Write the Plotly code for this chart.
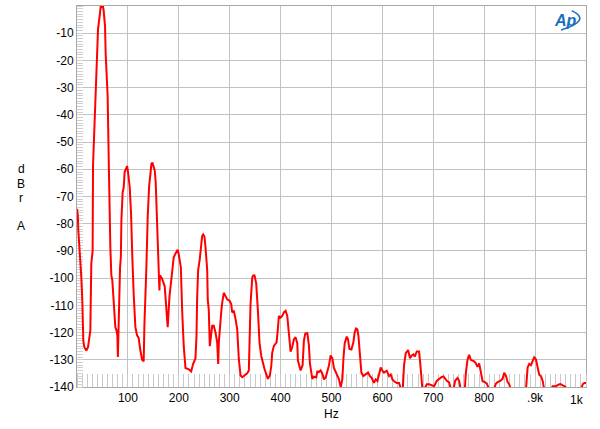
import plotly.graph_objects as go

# Spectrum data (frequency in Hz, level in dBr A)
freq_hz = [
    0, 1.6, 2.6, 5.1, 7.1, 8.5, 10.4, 12.4, 14.4, 18.3, 21.6, 24.2, 26.2, 28.1, 30.7,
    31.5, 33.0, 36.0, 38.0, 41.3, 45.2, 46.4, 51.2, 52.3, 55.1, 56.3, 60.2, 61.0, 62.2,
    65.5, 67.5, 69.4, 71.4, 75.3, 77.3, 79.3, 80.3, 81.2, 84.6, 86.2,
    87.2, 89.7, 91.7, 93.6, 97.0, 98.4, 100.3, 101.5, 103.5, 106.2, 107.4, 108.8,
    111.3, 114.7, 118.0, 121.2, 124.5, 127.9, 131.0, 132.4, 136.3, 136.8,
    138.9, 141.6, 144.2, 146.2, 148.1, 150.7, 152.7, 154.6, 156.6, 159.2, 161.3,
    161.9, 162.9, 166.8, 172.3, 175.7, 178.2, 181.6, 183.5, 186.9, 190.0, 193.4,
    195.4, 197.7, 199.7, 202.0, 204.0,
    206.6, 209.7, 213.1, 219.5, 224.3, 228.2, 232.7, 234.7, 236.1, 238.0, 241.2,
    243.9, 245.9, 247.9, 250.4, 252.4, 255.8, 256.9, 258.9, 260.9, 263.6, 265.6,
    268.7, 272.1, 275.4, 277.4, 278.6, 280.5, 283.3, 285.3, 288.4, 291.8, 295.1,
    300.2, 303.0, 304.9, 308.1, 311.4, 314.8, 317.9, 321.3, 324.6, 329.1, 334.4,
    337.6, 339.6, 340.9, 344.3, 346.2, 348.8, 352.1, 355.3, 358.6, 362.0, 365.1,
    368.5, 375.0, 378.9, 381.7, 383.6, 386.8, 392.1, 394.6, 396.6, 399.9, 403.3,
    406.4, 409.8, 413.1, 416.3, 419.6, 422.9, 426.1, 429.4, 432.8, 434.0, 439.3,
    443.2, 445.8, 448.5, 452.5, 455.6, 457.6, 462.3, 465.5, 470.0, 472.1, 475.3,
    478.6, 481.9, 485.2, 488.5, 492.0, 495.0, 498.3, 501.7, 504.8, 508.2, 511.6,
    514.7, 518.1, 521.4, 523.4, 525.9, 529.9, 532.4, 535.2, 539.1, 543.0, 545.6,
    548.1, 550.8, 552.9, 556.0, 558.7, 562.6, 567.2, 571.7, 575.6, 579.0, 583.5,
    586.8, 590.2, 593.3, 596.7, 600.0, 603.2, 608.5, 613.0, 616.4, 619.7, 622.9,
    628.2, 632.7, 636.0, 640.0, 642.5, 645.9, 650.4, 654.3, 657.7, 661.0, 663.6,
    667.5, 672.0, 674.0, 676.8, 678.7, 681.9, 687.2, 691.7, 696.5, 701.6, 707.0,
    711.5, 716.1, 720.1, 723.2, 726.5, 731.0, 734.4, 739.7, 742.8, 747.6, 750.7,
    754.1, 761.9, 763.9, 767.2, 770.4, 773.7, 777.1, 780.2, 783.6, 786.9, 790.1,
    793.4, 796.8, 801.3, 805.2, 809.8, 819.0, 822.9, 826.3, 831.4, 836.1, 839.3,
    842.6, 846.0, 849.1, 852.5, 882.0, 885.3, 888.5, 891.8, 895.1, 898.3, 901.6,
    905.0, 908.1, 911.5, 914.8, 918.0, 931.2, 934.5, 941.0, 947.5, 950.9, 954.2,
    957.4, 962.6, 990.2, 993.5, 996.7, 1000.0,
]
level_dbr = [
    -74.5, -77, -82.5, -89.8, -92.8, -99.7, -108, -123, -125.4, -126.6, -125.4, -121.7, -119.2, -94.6, -90,
    -58.5, -50, -35, -19, -8.5, -2.6, -0.4, -0.4, -1.5, -7.5, -17.5, -33, -46, -55,
    -88.6, -99, -100.8, -105.6, -118, -119, -121, -129, -120, -96, -92,
    -78.8, -68.4, -66.8, -61, -59.4, -58.8, -61, -62.5, -66.5, -76.3, -88.6, -93,
    -105.6, -118, -121, -122, -126.6, -130, -130.6, -117.5, -96, -90,
    -77.6, -66.5, -60.4, -58, -57.5, -59.5, -60.4, -64.7, -73.9, -88.6, -97,
    -104.5, -99, -100, -103, -114.3, -118, -107, -103.6, -96, -92.3, -91,
    -90.5, -89.6, -91, -94, -96,
    -112, -125, -133, -133.5, -134.3, -131.5, -129.5, -121.6, -107, -97, -93,
    -88, -84.5, -83.9, -84.7, -88.5, -97, -108, -111.6, -125, -120, -117.5,
    -117.5, -120, -123.6, -131.5, -123.6, -117.5, -112.6, -109, -105.4, -106.6, -107.8,
    -108.4, -109.6, -112.6, -112, -115, -118.8, -129.7, -135.8, -136.4, -135.8, -135,
    -133.9, -123, -109.6, -99.8, -99, -99, -102, -111.6, -123.8, -128.6, -131,
    -133.5, -137, -135.8, -132.2, -127.3, -124.9, -123.6, -118.8, -113.9, -114.5, -113.9,
    -112.6, -112, -113.9, -120, -127, -125.3, -122.5, -121.7, -124, -130.3, -133.9,
    -132, -123, -120.4, -120.2, -124.6, -131.3, -137, -136.2, -136.5, -134.3, -134.5,
    -133.9, -135, -137.2, -136.5, -134.5, -132.1, -128.4, -129.5, -133, -134.5, -135.5,
    -137.2, -140.2, -137, -129.6, -124, -121.5, -122.5, -126, -126.2, -123.6, -119.9,
    -118.5, -118.8, -121.2, -127.3, -134.7, -136, -135.5, -134.7, -136, -136.6, -138.5,
    -137.2, -137.8, -134.7, -132.8, -134, -134.7, -134, -136, -135.4, -137.2, -137.9,
    -138.5, -138.5, -140.5, -141, -132, -127.6, -126.4, -129.4, -128.4, -128, -128.8,
    -127, -127, -130.6, -135.5, -141, -141, -139, -139, -139.3, -139.7, -137.7,
    -137, -136.4, -136.1, -137, -137.7, -138.3, -140.5, -141, -137.7, -136.7, -137.7,
    -141, -141, -134.9, -130, -128.2, -130, -130.3, -130.6, -131.3, -132.6, -131.3,
    -134.3, -137.9, -138.2, -138.8, -141, -141, -138.8, -138.2, -137.8, -137, -134.8,
    -135.8, -138.2, -139, -141, -141, -132.8, -131.5, -132, -130.3, -129.1, -129.8,
    -133.6, -135.5, -136, -137.7, -141, -141, -139.7, -139.7, -139, -139, -139.4,
    -139.7, -140.5, -141, -139, -138.5, -138.5,
]

x_tick_vals = [100, 200, 300, 400, 500, 600, 700, 800, 900, 1000]
x_tick_text = ["100", "200", "300", "400", "500", "600", "700", "800", ".9k", ""]
y_tick_vals = [-140, -130, -120, -110, -100, -90, -80, -70, -60, -50, -40, -30, -20, -10]
y_tick_text = [str(v) for v in y_tick_vals]

FONT = "Liberation Sans, Arial, sans-serif"
GRID = "#c2c2c2"
LOGO = "#1a6ec0"

fig = go.Figure()
fig.add_trace(go.Scatter(
    x=freq_hz, y=level_dbr, mode="lines",
    line=dict(color="#ff0000", width=2),
    hoverinfo="skip",
))

fig.update_layout(
    width=600, height=429,
    margin=dict(l=77, r=14, t=6, b=42, pad=0),
    paper_bgcolor="white", plot_bgcolor="white",
    showlegend=False,
    font=dict(family=FONT, size=12, color="black"),
)
fig.update_xaxes(
    range=[0, 1000], tickmode="array", tickvals=x_tick_vals, ticktext=x_tick_text,
    showgrid=True, gridcolor=GRID, gridwidth=1, zeroline=False,
    showline=True, linecolor="#a8a8a8", linewidth=1, mirror=True,
    ticks="", tickfont=dict(family=FONT, size=12, color="black"),
    layer="below traces", automargin=False,
    minor=dict(tick0=0, dtick=10, ticks="inside", ticklen=13, tickcolor="#c8c8c8",
               tickwidth=1, showgrid=False),
)
fig.update_yaxes(
    range=[-140, 0], tickmode="array", tickvals=y_tick_vals, ticktext=y_tick_text,
    showgrid=True, gridcolor=GRID, gridwidth=1, zeroline=False,
    showline=True, linecolor="#a8a8a8", linewidth=1, mirror=True,
    ticks="", tickfont=dict(family=FONT, size=12, color="black"),
    layer="below traces", automargin=False,
    minor=dict(tick0=0, dtick=1, ticks="inside", ticklen=6, tickcolor="#d0d0d0",
               tickwidth=1, showgrid=False),
)

# axis titles and decorations
fig.add_annotation(x=1000, y=0, xref="x", yref="paper", text="1k", showarrow=False,
                   xanchor="right", yanchor="top", yshift=-4, font=dict(size=12))
fig.add_annotation(x=500, y=-0.072, xref="x", yref="paper", text="Hz", showarrow=False,
                   xanchor="center", yanchor="middle", font=dict(size=12))
for letter, ypos in [("d", 0.571), ("B", 0.534), ("r", 0.497), ("A", 0.423)]:
    fig.add_annotation(x=-0.110, y=ypos, xref="paper", yref="paper", text=letter,
                       showarrow=False, xanchor="center", yanchor="middle",
                       font=dict(size=12))
fig.add_annotation(x=0.959, y=0.963, xref="paper", yref="paper",
                   text="<b><i>Ap</i></b>", showarrow=False, xanchor="center",
                   yanchor="middle", font=dict(size=16, color=LOGO, family=FONT))
fig.add_shape(type="path", xref="paper", yref="paper",
              path="M 0.972,0.988 Q 1.012,0.962 0.951,0.937",
              line=dict(color=LOGO, width=1.5))

fig.write_html("out.html",
               config={"displayModeBar": False, "staticPlot": True},
               post_script="document.body.style.margin='0';document.body.style.padding='0';")
